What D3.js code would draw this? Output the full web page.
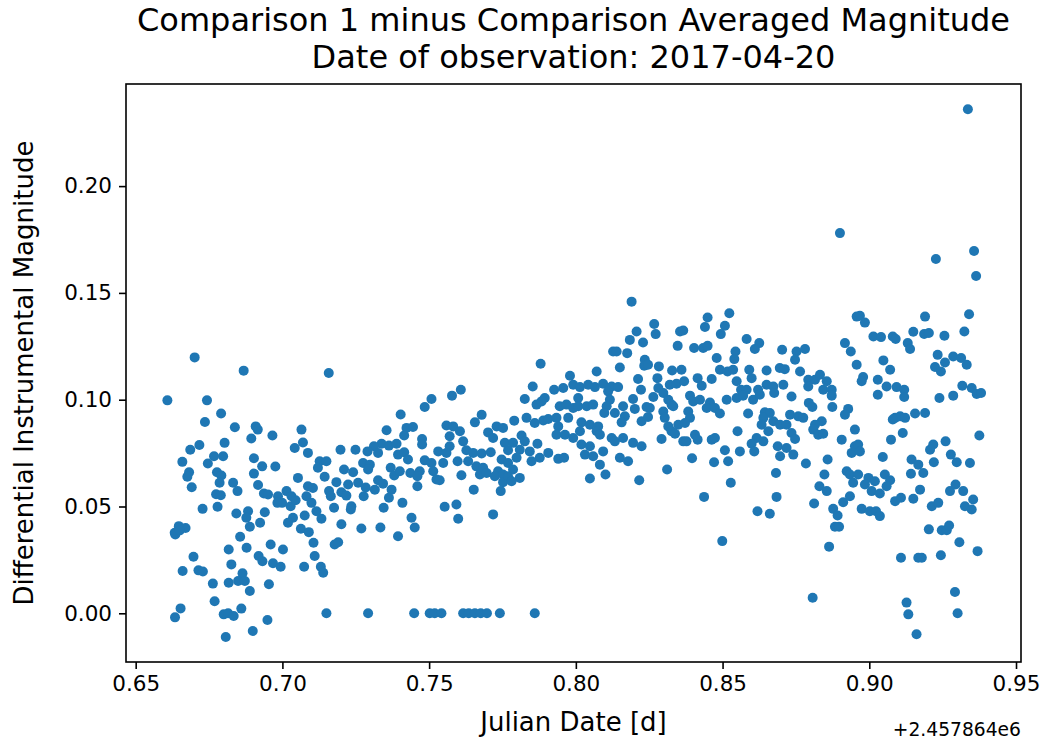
<!DOCTYPE html>
<html><head><meta charset="utf-8">
<script src="https://cdn.jsdelivr.net/npm/d3@7"></script>
<style>
body{margin:0;background:#fff}
text{font-family:"DejaVu Sans",sans-serif;fill:#000}
</style>
</head><body>
<svg id="chart" width="1045" height="749"></svg>
<script>
// Julian Date minus 2457864 (days)
const julianDate = [
0.6701,0.6608,0.6743,0.6791,0.6736,0.6803,0.6717,0.6686,0.6659,0.6767,0.6798,0.6746,0.6682,0.6676,0.6777,0.6792,0.6786,0.6691,0.6774,0.6790,0.6779,0.6728,0.6647,0.6670,0.6633,0.6635,0.6650,0.6697,0.6660,0.6714,0.6729,0.6763,0.6769,0.6800,0.6653,0.6634,0.6807,
0.6868,0.6838,0.6909,0.6916,0.6894,0.6966,0.6903,0.6931,0.6976,0.7042,0.6903,0.6917,0.6832,0.6847,0.6937,0.6951,0.6985,0.7014,0.7031,0.6999,0.6983,0.7028,0.7036,0.7019,0.6940,0.6883,0.6877,0.6843,0.6889,0.6924,0.6856,0.6960,0.6878,0.6817,0.6919,0.6932,0.6968,0.6994,0.7002,0.6826,0.6864,0.6817,0.6849,0.6872,0.6889,0.6954,0.6860,0.6815,0.6834,0.6949,0.6899,
0.7158,0.7065,0.7070,0.7087,0.7198,0.7249,0.7127,0.7150,0.7121,0.7210,0.7275,0.7241,0.7144,0.7053,0.7087,0.7104,0.7184,0.7224,0.7258,0.7159,0.7165,0.7201,0.7218,0.7277,0.7045,0.7082,0.7099,0.7116,0.7133,0.7235,0.7233,0.7176,0.7076,0.7063,0.7090,0.7201,0.7269,0.7106,0.7178,0.7190,0.7110,0.7074,0.7131,0.7139,0.7150,
0.7508,0.7485,0.7403,0.7355,0.7423,0.7445,0.7415,0.7476,0.7476,0.7338,0.7312,0.7363,0.7389,0.7290,0.7326,0.7394,0.7415,0.7428,0.7485,0.7508,0.7531,0.7298,0.7292,0.7369,0.7381,0.7400,0.7436,0.7468,0.7460,0.7514,0.7525,0.7326,0.7343,0.7315,0.7372,0.7363,0.7460,0.7284,0.7409,0.7345,0.7440,0.7451,0.7334,0.7394,0.7292,0.7449,0.7502,0.7519,
0.7608,0.7578,0.7679,0.7656,0.7559,0.7582,0.7605,0.7570,0.7701,0.7730,0.7752,0.7718,0.7758,0.7616,0.7570,0.7559,0.7627,0.7650,0.7679,0.7710,0.7747,0.7597,0.7633,0.7548,0.7661,0.7684,0.7673,0.7696,0.7735,0.7724,0.7752,0.7610,0.7536,0.7752,0.7744,0.7652,0.7553,0.7593,0.7599,0.7718,0.7542,0.7616,0.7635,0.7656,0.7676,0.7697,0.7741,
0.7880,0.7980,0.7853,0.7926,0.7957,0.7991,0.7826,0.7894,0.7866,0.7883,0.7945,0.7968,0.7991,0.7790,0.7832,0.7860,0.7889,0.7906,0.7934,0.7974,0.7940,0.7934,0.7963,0.7991,0.7815,0.7786,0.7826,0.7869,0.7809,0.7843,0.7769,0.7877,0.7906,0.7940,0.7960,0.7849,0.7798,0.7769,0.7786,0.7809,0.7769,0.7781,0.7860,
0.8190,0.8207,0.8184,0.8229,0.8127,0.8139,0.8175,0.8235,0.8233,0.8150,0.8071,0.8212,0.8222,0.8014,0.8042,0.8065,0.8093,0.8122,0.8144,0.8110,0.8116,0.8195,0.8008,0.8008,0.8037,0.8059,0.8105,0.8161,0.8201,0.8241,0.8097,0.8133,0.8167,0.8156,0.8224,0.8019,0.8048,0.8076,0.8014,0.8071,0.8082,0.8122,0.8133,0.8161,0.8195,0.8224,0.8019,0.8048,0.8093,0.8031,0.8059,0.8082,0.8150,0.8178,0.8101,0.8048,0.8216,
0.8449,0.8440,0.8267,0.8272,0.8355,0.8366,0.8347,0.8403,0.8434,0.8449,0.8480,0.8246,0.8283,0.8328,0.8360,0.8278,0.8320,0.8343,0.8369,0.8415,0.8429,0.8463,0.8281,0.8264,0.8298,0.8389,0.8315,0.8400,0.8423,0.8457,0.8252,0.8326,0.8332,0.8298,0.8383,0.8446,0.8474,0.8246,0.8303,0.8389,0.8315,0.8349,0.8372,0.8326,0.8338,0.8406,0.8292,0.8366,0.8377,0.8415,0.8463,0.8474,0.8396,0.8471,0.8311,0.8437,
0.8523,0.8508,0.8494,0.8582,0.8625,0.8610,0.8703,0.8544,0.8540,0.8491,0.8517,0.8536,0.8591,0.8599,0.8650,0.8695,0.8712,0.8548,0.8563,0.8582,0.8621,0.8650,0.8673,0.8707,0.8676,0.8548,0.8570,0.8604,0.8627,0.8514,0.8491,0.8587,0.8644,0.8661,0.8639,0.8673,0.8696,0.8718,0.8633,0.8656,0.8551,0.8616,0.8639,0.8599,0.8608,0.8508,0.8559,0.8688,0.8696,0.8519,0.8682,0.8528,0.8684,0.8619,0.8661,0.8499,
0.8957,0.8917,0.8937,0.8957,0.8752,0.8781,0.8747,0.8764,0.8792,0.8815,0.8832,0.8855,0.8843,0.8872,0.8872,0.8792,0.8735,0.8794,0.8806,0.8874,0.8928,0.8917,0.8730,0.8758,0.8775,0.8838,0.8815,0.8809,0.8826,0.8843,0.8735,0.8747,0.8951,0.8906,0.8718,0.8741,0.8784,0.8858,0.8940,0.8951,0.8923,0.8934,0.8945,0.8847,0.8830,0.8855,0.8812,0.8877,0.8911,0.8934,0.8892,0.8883,0.8897,0.8863,0.8807,
0.8968,0.8985,0.9190,0.9014,0.9040,0.9080,0.9090,0.9150,0.9187,0.9131,0.9139,0.9048,0.9071,0.8979,0.8974,0.9029,0.9059,0.9093,0.9119,0.9119,0.9029,0.9088,0.9105,0.9122,0.9156,0.9190,0.9080,0.9114,0.9074,0.8962,0.8968,0.9046,0.9144,0.9167,0.9142,0.9184,0.8962,0.8997,0.9019,0.9053,0.9071,0.8985,0.9008,0.9036,0.9059,0.9173,0.9088,0.9108,0.9150,0.8974,0.9002,0.9023,0.9036,0.9108,0.9167,0.9179,0.9127,0.9133,0.9161,
0.9340,0.9324,0.9203,0.9256,0.9233,0.9224,0.9244,0.9258,0.9286,0.9313,0.9332,0.9317,0.9349,0.9366,0.9381,0.9286,0.9239,0.9375,0.9260,0.9218,0.9207,0.9278,0.9298,0.9343,0.9220,0.9294,0.9275,0.9320,0.9326,0.9349,0.9354,0.9213,0.9235,0.9203,0.9247,0.9264,0.9272,0.9307,0.9369,0.9244,0.9292,0.9301,
0.8900,0.9336,0.9227,0.9357,0.9364
];
// Differential instrumental magnitude
const diffMagnitude = [
0.1198,0.0997,0.0997,0.0935,0.0896,0.0798,0.0788,0.0766,0.0709,0.0735,0.0735,0.0701,0.0660,0.0639,0.0660,0.0645,0.0611,0.0590,0.0557,0.0553,0.0499,0.0489,0.0408,0.0399,0.0377,0.0369,0.0388,0.0265,0.0198,0.0201,0.0196,0.0139,0.0056,-0.0005,0.0023,-0.0019,-0.0111,
0.1136,0.0871,0.0875,0.0860,0.0818,0.0832,0.0726,0.0688,0.0687,0.0774,0.0654,0.0601,0.0611,0.0572,0.0561,0.0556,0.0548,0.0572,0.0548,0.0517,0.0517,0.0501,0.0447,0.0424,0.0473,0.0478,0.0447,0.0467,0.0405,0.0424,0.0358,0.0322,0.0307,0.0299,0.0268,0.0244,0.0234,0.0218,0.0299,0.0229,0.0187,0.0143,0.0151,0.0151,0.0104,0.0136,0.0022,0.0000,-0.0013,-0.0031,-0.0083,
0.1125,0.0860,0.0800,0.0751,0.0766,0.0766,0.0712,0.0712,0.0681,0.0673,0.0704,0.0660,0.0639,0.0634,0.0595,0.0587,0.0614,0.0603,0.0611,0.0572,0.0548,0.0567,0.0551,0.0548,0.0529,0.0548,0.0517,0.0478,0.0443,0.0501,0.0486,0.0494,0.0458,0.0396,0.0380,0.0417,0.0397,0.0330,0.0322,0.0333,0.0268,0.0218,0.0218,0.0190,0.0000,
0.1003,0.0966,0.0931,0.0857,0.0868,0.0872,0.0832,0.0816,0.0790,0.0794,0.0782,0.0785,0.0794,0.0758,0.0751,0.0743,0.0754,0.0720,0.0716,0.0704,0.0758,0.0696,0.0673,0.0681,0.0645,0.0665,0.0657,0.0665,0.0642,0.0665,0.0626,0.0623,0.0607,0.0579,0.0579,0.0541,0.0595,0.0589,0.0517,0.0494,0.0447,0.0402,0.0402,0.0361,0,0,0,0,
0.1047,0.1019,0.0929,0.0894,0.0879,0.0875,0.0852,0.0829,0.0847,0.0875,0.0868,0.0821,0.0798,0.0805,0.0782,0.0751,0.0763,0.0751,0.0748,0.0754,0.0720,0.0712,0.0712,0.0704,0.0688,0.0681,0.0650,0.0657,0.0665,0.0642,0.0650,0.0646,0.0623,0.0614,0.0572,0.0579,0.0499,0.0509,0.0443,0.0463,0,0,0,0,0,0,0,
0.1168,0.1112,0.1062,0.1047,0.1055,0.1070,0.1003,0.1008,0.0977,0.0992,0.0969,0.0977,0.0961,0.0902,0.0915,0.0891,0.0903,0.0910,0.0915,0.0915,0.0875,0.0836,0.0836,0.0821,0.0832,0.0798,0.0805,0.0794,0.0766,0.0758,0.0763,0.0728,0.0751,0.0723,0.0728,0.0712,0.0728,0.0704,0.0673,0.0634,0.0642,0.0618,0,
0.1459,0.1319,0.1280,0.1268,0.1226,0.1226,0.1218,0.1187,0.1159,0.1151,0.1132,0.1097,0.1047,0.1059,0.1070,0.1059,0.1075,0.1062,0.1059,0.1039,0.1000,0.1003,0.1008,0.0969,0.0969,0.0977,0.0969,0.0969,0.0957,0.0966,0.0938,0.0938,0.0922,0.0894,0.0899,0.0894,0.0883,0.0875,0.0852,0.0852,0.0836,0.0821,0.0805,0.0821,0.0798,0.0782,0.0790,0.0782,0.0758,0.0743,0.0735,0.0696,0.0728,0.0712,0.0650,0.0631,0.0623,
0.1385,0.1340,0.1354,0.1307,0.1319,0.1324,0.1252,0.1242,0.1242,0.1252,0.1195,0.1164,0.1156,0.1137,0.1140,0.1101,0.1070,0.1075,0.1086,0.1101,0.1065,0.1097,0.1055,0.1013,0.1031,0.1019,0.1000,0.0992,0.1000,0.0987,0.0961,0.0977,0.0969,0.0945,0.0945,0.0961,0.0961,0.0919,0.0915,0.0915,0.0875,0.0883,0.0891,0.0852,0.0841,0.0836,0.0816,0.0805,0.0805,0.0813,0.0813,0.0821,0.0726,0.0707,0.0673,0.0545,
0.1405,0.1346,0.1307,0.1284,0.1265,0.1237,0.1234,0.1226,0.1190,0.1140,0.1132,0.1140,0.1140,0.1101,0.1137,0.1148,0.1143,0.1086,0.1047,0.1047,0.1047,0.1070,0.1062,0.1070,0.1031,0.1008,0.1019,0.1000,0.1023,0.1000,0.0935,0.0935,0.0941,0.0938,0.0915,0.0899,0.0883,0.0883,0.0883,0.0852,0.0852,0.0821,0.0805,0.0794,0.0758,0.0763,0.0758,0.0782,0.0735,0.0712,0.0657,0.0611,0.0545,0.0478,0.0466,0.0338,
0.1389,0.1265,0.1226,0.1164,0.1226,0.1237,0.1187,0.1132,0.1093,0.1093,0.1117,0.1086,0.1047,0.1047,0.1019,0.1062,0.1015,0.0985,0.0966,0.0966,0.0957,0.0930,0.0930,0.0922,0.0915,0.0899,0.0883,0.0860,0.0836,0.0841,0.0844,0.0816,0.0860,0.0813,0.0774,0.0743,0.0701,0.0720,0.0751,0.0782,0.0665,0.0650,0.0611,0.0650,0.0595,0.0572,0.0514,0.0489,0.0520,0.0548,0.0458,0.0405,0.0405,0.0312,0.0073,
0.1393,0.1361,0.1389,0.1296,0.1293,0.1296,0.1284,0.1318,0.1308,0.1265,0.1237,0.1184,0.1140,0.1106,0.1086,0.1093,0.1062,0.1059,0.1047,0.1013,0.1023,0.0915,0.0922,0.0915,0.0935,0.0938,0.0907,0.0844,0.0813,0.0790,0.0758,0.0732,0.0720,0.0696,0.0653,0.0657,0.0650,0.0634,0.0618,0.0650,0.0623,0.0603,0.0572,0.0561,0.0595,0.0579,0.0525,0.0541,0.0536,0.0489,0.0478,0.0478,0.0455,0.0260,0.0260,0.0260,0.0050,-0.0005,-0.0098,
0.1400,0.1319,0.1312,0.1299,0.1210,0.1153,0.1132,0.1174,0.1202,0.1195,0.1164,0.1065,0.1055,0.1027,0.1031,0.1019,0.1008,0.0832,0.0805,0.0790,0.0766,0.0743,0.0707,0.0704,0.0707,0.0603,0.0572,0.0572,0.0501,0.0486,0.0533,0.0501,0.0517,0.0393,0.0389,0.0389,0.0411,0.0333,0.0291,0.0272,0.0100,0.0000,
0.1780,0.2360,0.1659,0.1696,0.1579
];
const xTicks = [0.65, 0.70, 0.75, 0.80, 0.85, 0.90, 0.95];
const yTicks = [0.00, 0.05, 0.10, 0.15, 0.20];
const titleLines = ["Comparison 1 minus Comparison Averaged Magnitude", "Date of observation: 2017-04-20"];
const xLabel = "Julian Date [d]";
const yLabel = "Differential Instrumental Magnitude";
const offsetText = "+2.457864e6";

const W = 1045, H = 749;
const m = {left:126, right:1021, top:84, bottom:662};
const svg = d3.select("#chart");

const x = d3.scaleLinear().domain([0.6467, 0.9517]).range([m.left, m.right]);
const y = d3.scaleLinear().domain([-0.0228, 0.2478]).range([m.bottom, m.top]);

const n = Math.min(julianDate.length, diffMagnitude.length);
const pts = d3.range(n).map(i => ({jd: julianDate[i], mag: diffMagnitude[i]}));

svg.append("g").selectAll("circle").data(pts).join("circle")
  .attr("cx", d => x(d.jd)).attr("cy", d => y(d.mag))
  .attr("r", 5).attr("fill", "#1f77b4");

const fs = 21.5;
const xAxis = svg.append("g").attr("transform", `translate(0,${m.bottom})`)
  .call(d3.axisBottom(x).tickValues(xTicks).tickFormat(d3.format(".2f")).tickSizeOuter(0).tickSize(7).tickPadding(7));
const yAxis = svg.append("g").attr("transform", `translate(${m.left},0)`)
  .call(d3.axisLeft(y).tickValues(yTicks).tickFormat(d3.format(".2f")).tickSizeOuter(0).tickSize(7).tickPadding(7));
[xAxis, yAxis].forEach(g => {
  g.select(".domain").remove();
  g.selectAll(".tick line").attr("stroke", "#000").attr("stroke-width", 1.6);
  g.selectAll(".tick text").attr("font-size", fs).attr("fill", "#000").style("font-family", '"DejaVu Sans", sans-serif');
});

svg.append("rect").attr("x", m.left).attr("y", m.top)
  .attr("width", m.right - m.left).attr("height", m.bottom - m.top)
  .attr("fill", "none").attr("stroke", "#000").attr("stroke-width", 1.6);

const cx = (m.left + m.right) / 2;
svg.append("text").attr("x", cx).attr("y", 31).attr("text-anchor", "middle").attr("font-size", 32).text(titleLines[0]);
svg.append("text").attr("x", cx).attr("y", 68).attr("text-anchor", "middle").attr("font-size", 32).text(titleLines[1]);
svg.append("text").attr("x", cx).attr("y", 731).attr("text-anchor", "middle").attr("font-size", 26).text(xLabel);
svg.append("text").attr("transform", `translate(33,${(m.top + m.bottom) / 2}) rotate(-90)`).attr("text-anchor", "middle").attr("font-size", 26).text(yLabel);
svg.append("text").attr("x", m.right).attr("y", 736).attr("text-anchor", "end").attr("font-size", 18.7).text(offsetText);
</script>
</body></html>
